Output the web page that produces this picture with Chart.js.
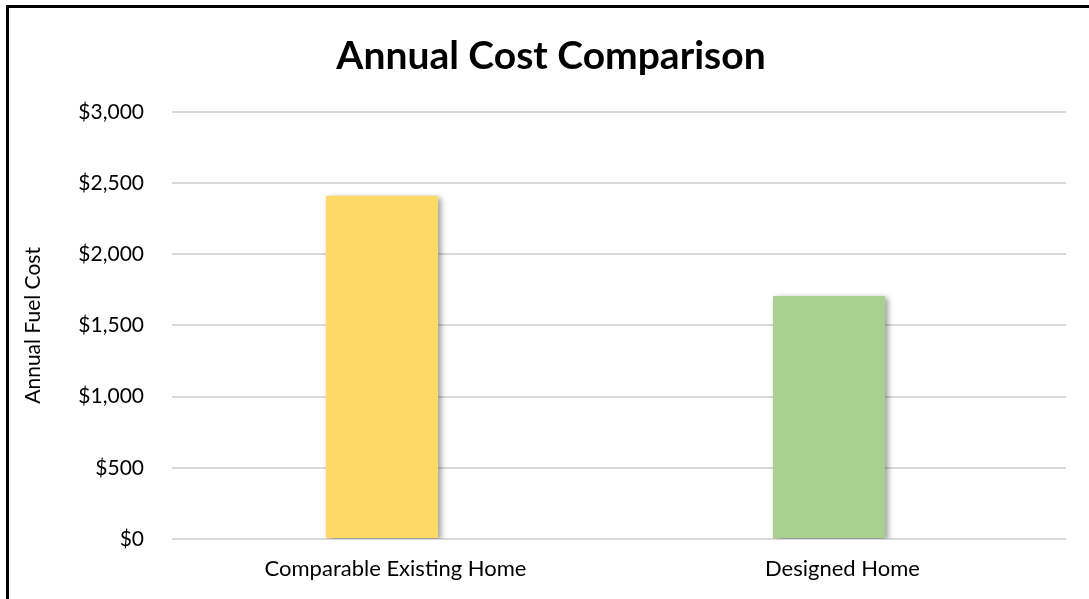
<!DOCTYPE html>
<html>
<head>
<meta charset="utf-8">
<script src="https://cdn.jsdelivr.net/npm/chart.js@4"></script>
<style>
    body { margin: 0; background: #fff; }
    #wrap { position: relative; width: 1089px; height: 599px; overflow: hidden; }
    #frame { position: absolute; left: 6px; top: 5px; width: 1200px; height: 700px;
             border-left: 3px solid #000; border-top: 3px solid #000; pointer-events: none; }
    canvas { position: absolute; left: 0; top: 0; }
</style>
</head>
<body>
<div id="wrap">
    <canvas id="costChart" width="1089" height="599"></canvas>
    <div id="frame"></div>
</div>
<script>
// 图表数据
var categories = ['Comparable Existing Home', 'Designed Home'];
var annualCost = [2410, 1707];
var barColors = ['#FFD966', '#A9D08E'];
var emptySeries = [null, null];   // Excel里的空系列, 让柱子偏向左侧
var tickValues = [0, 500, 1000, 1500, 2000, 2500, 3000];

var fontName = 'Lato, "Open Sans", sans-serif';

// 柱子阴影
var barShadow = {
    id: 'barShadow',
    beforeDatasetDraw: function(chart, args) {
        var ctx = chart.ctx;
        ctx.save();
        ctx.shadowColor = 'rgba(0, 0, 0, 0.4)';
        ctx.shadowBlur = 6;
        ctx.shadowOffsetX = 3;
        ctx.shadowOffsetY = 2;
    },
    afterDatasetDraw: function(chart) {
        chart.ctx.restore();
    }
};

var ctx = document.getElementById('costChart');
var chart = new Chart(ctx, {
    type: 'bar',
    data: {
        labels: categories,
        datasets: [{
            label: 'Annual Fuel Cost',
            data: annualCost,
            backgroundColor: barColors,
            borderWidth: 0
        }, {
            label: '',
            data: emptySeries
        }]
    },
    options: {
        responsive: false,
        animation: false,
        categoryPercentage: 0.1208,
        barPercentage: 4.15,
        // 左边留多一点, 标题才能居中在551附近
        layout: { padding: { left: 36, right: 23, top: 0, bottom: 0 } },
        plugins: {
            legend: { display: false },
            tooltip: { enabled: false },
            title: {
                display: true,
                text: 'Annual Cost Comparison',
                color: '#000',
                font: { family: fontName, size: 39, weight: 'bold' },
                padding: { top: 33, bottom: 32 }
            }
        },
        scales: {
            y: {
                min: 0,
                max: 3000,
                afterBuildTicks: function(scale) {
                    scale.ticks = tickValues.map(function(v) { return { value: v }; });
                },
                afterFit: function(scale) { scale.width = 136; },
                border: { display: false },
                grid: { color: '#d9d9d9', lineWidth: 2, drawTicks: false },
                ticks: {
                    color: '#000',
                    padding: 28,
                    font: { family: fontName, size: 21 },
                    callback: function(v) { return '$' + v.toLocaleString('en-US'); }
                },
                title: {
                    display: true,
                    text: 'Annual Fuel Cost',
                    color: '#000',
                    font: { family: fontName, size: 21 },
                    padding: { top: -15, bottom: 0 }
                }
            },
            x: {
                afterFit: function(scale) { scale.height = 60; },
                border: { display: false },
                grid: { display: false },
                ticks: {
                    color: '#000',
                    padding: 9,
                    maxRotation: 0,
                    font: { family: fontName, size: 22 }
                }
            }
        }
    },
    plugins: [barShadow]
});
</script>
</body>
</html>
